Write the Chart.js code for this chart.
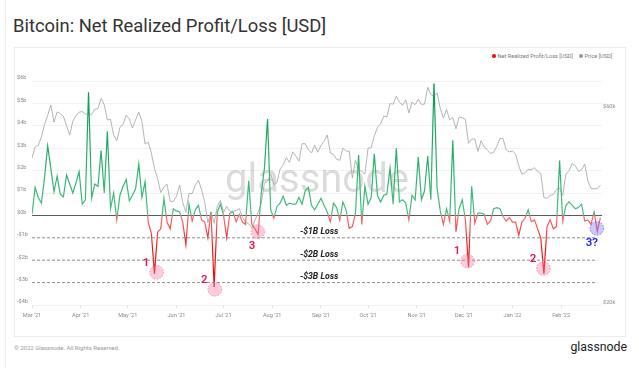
<!DOCTYPE html>
<html>
<head>
<meta charset="utf-8">
<script src="https://cdn.jsdelivr.net/npm/chart.js@4.4.0/dist/chart.umd.min.js"></script>
<style>
  html, body { margin: 0; padding: 0; background: #fff; }
  body { width: 639px; height: 368px; position: relative; overflow: hidden; font-family: Roboto, "Noto Sans", sans-serif; }
  #card { position: absolute; left: 5px; top: 0; width: 1px; height: 368px; background: #ededed; }
  #panel { position: absolute; left: 14px; top: 47px; width: 612px; height: 290px; border: 1px solid #ececec; box-sizing: border-box; }
  #title { position: absolute; left: 13px; top: 17px; font-size: 18.4px; line-height: 18px; color: #333; white-space: nowrap; }
  .legend { position: absolute; top: 52.5px; font-size: 5.6px; line-height: 6px; color: #777; white-space: nowrap; }
  .dot { display: inline-block; width: 3.6px; height: 3.6px; border-radius: 50%; margin-right: 2px; vertical-align: -0.3px; }
  #footer { position: absolute; left: 14px; top: 345px; font-size: 6px; line-height: 6px; color: #999; white-space: nowrap; }
  #logo { position: absolute; right: 12px; top: 341px; font-size: 12.3px; line-height: 13px; color: #222; }
  #wrap { position: absolute; left: 0; top: 0; width: 639px; height: 368px; }
</style>
</head>
<body>
<div id="card"></div>
<div id="panel"></div>
<div id="title">Bitcoin: Net Realized Profit/Loss [USD]</div>
<div class="legend" style="left:492px"><span class="dot" style="background:#f01414"></span>Net Realized Profit/Loss [USD]</div>
<div class="legend" style="left:579px"><span class="dot" style="background:#9a9a9a"></span>Price [USD]</div>
<div id="footer">© 2022 Glassnode. All Rights Reserved.</div>
<div id="logo">glassnode</div>
<div id="wrap"><canvas id="chart" width="639" height="368"></canvas></div>

<script>
// one sample every 2 days starting 1 Mar 2021
const dayStep = 2;

// net realized profit/loss, billions USD
const netPL = [
  0.05, 1.25, 0.8, 0.55, 1.7, 3.1, 2.1, 1.05, 1.75, 0.95,
  0.83, 1.8, 1.4, 1.0, 1.45, 1.95, 0.5, 0.7, 5.5, 0.78,
  1.4, 1.3, 2.9, 1.0, 3.75, 0.3, 1.0, -0.2, 0.9, 1.3,
  1.6, 0.65, 0.9, 1.2, 2.3, 0.8, 1.5, -0.3, -0.8, -2.6,
  -0.75, -0.6, 0.76, -0.3, -0.6, 0.3, 0.2, 0.15, -0.3, -1.3,
  0.5, -0.25, 0.25, 0.45, -0.2, -0.3, -1.0, 0.15, -3.2, 0.15,
  0.5, 0.0, -1.0, 0.1, 0.15, -0.28, 0.05, -0.3, -0.4, 1.55,
  -0.4, -0.6, -0.85, 1.0, 2.1, 4.3, 0.25, -0.13, 0.4, 0.55,
  0.85, 0.45, 0.55, 0.5, 0.5, 0.8, 0.5, 1.1, 1.25, 0.45,
  0.25, 0.5, 0.76, 0.45, 0.15, -0.28, 0.55, 0.35, -0.21, 0.6,
  0.25, -0.58, -0.5, 0.1, 2.7, -0.4, 1.3, 0.5, 0.8, 2.75,
  0.9, 0.6, 0.9, 0.95, 2.1, 0.5, 3.0, 0.6, 0.7, 0.55,
  -0.2, 0.9, 0.7, 2.6, 0.7, 1.1, 2.65, 0.7, 5.9, 1.2,
  0.2, -0.4, 0.3, -0.25, 3.35, -0.73, 0.3, 0.7, -0.2, -2.3,
  1.3, -0.35, 0.1, 0.1, 0.05, -0.4, -0.25, 0.3, 0.35, 0.3,
  -0.05, -0.25, -0.1, -0.3, -0.3, -0.88, -0.3, -0.13, 0.25, -0.28,
  -0.2, -0.6, -1.0, -2.6, -0.5, -0.2, -0.6, -0.5, 2.45, -0.25,
  0.45, 0.6, 0.45, 0.3, 0.35, 0.5, -0.25, -0.2, -0.4, 0.15,
  -0.7, -0.1
];

// BTC price, thousands USD
const price = [
  45.5, 48.4, 48.9, 51.2, 54.9, 57.8, 61.2, 55.6, 58.9, 58.3,
  57.5, 54.5, 51.7, 55.9, 57.7, 58.8, 59.0, 58.2, 58.1, 58.1,
  59.8, 60.0, 63.5, 61.3, 56.3, 56.5, 51.7, 50.1, 54.0, 54.9,
  57.8, 56.6, 53.8, 56.4, 58.8, 55.9, 49.2, 49.7, 46.8, 42.9,
  40.6, 37.5, 38.7, 39.3, 35.7, 35.7, 36.7, 39.1, 35.5, 33.6,
  37.3, 37.3, 39.1, 40.2, 38.1, 35.5, 31.7, 33.7, 31.6, 34.7,
  35.9, 33.6, 34.7, 33.8, 33.8, 33.9, 34.3, 32.7, 31.8, 31.5,
  30.8, 32.1, 33.6, 35.3, 39.5, 40.0, 41.6, 39.2, 39.7, 42.8,
  43.8, 45.6, 44.4, 47.1, 46.0, 44.7, 49.3, 49.3, 47.7, 46.8,
  48.9, 47.0, 48.8, 50.0, 51.8, 46.8, 46.4, 45.2, 44.9, 48.1,
  47.3, 47.3, 40.7, 44.9, 42.7, 42.2, 41.6, 48.1, 48.2, 51.5,
  54.0, 55.0, 57.5, 57.3, 61.7, 61.5, 64.3, 62.2, 61.1, 63.0,
  58.5, 62.2, 61.3, 63.2, 61.4, 61.5, 67.6, 65.0, 64.2, 65.5,
  60.1, 56.9, 59.7, 56.3, 57.1, 53.6, 57.2, 57.0, 56.5, 49.4,
  50.6, 50.6, 47.2, 50.1, 48.4, 47.6, 46.7, 46.9, 48.6, 50.8,
  50.7, 47.6, 47.1, 47.3, 46.5, 43.5, 41.6, 41.9, 42.7, 42.6,
  43.1, 42.2, 41.7, 36.5, 36.3, 36.9, 37.1, 38.2, 38.5, 36.9,
  41.6, 42.4, 44.1, 43.6, 42.2, 42.6, 44.0, 40.0, 38.4, 38.3,
  38.3, 39.1
];

const monthStarts = [0, 31, 61, 92, 122, 153, 184, 214, 245, 275, 306, 337];
const monthLabels = ["Mar '21", "Apr '21", "May '21", "Jun '21", "Jul '21", "Aug '21",
                     "Sep '21", "Oct '21", "Nov '21", "Dec '21", "Jan '22", "Feb '22"];
const priceTicks = [20000, 60000];

const lossLevels = [-1, -2, -3];
const lossLabels = ["-$1B Loss", "-$2B Loss", "-$3B Loss"];

// circled capitulation events (day, value in billions)
const markerDays   = [79.3, 116.4, 143.8, 277.4, 325.7, 359.7];
const markerValues = [-2.54, -3.3, -0.73, -2.04, -2.37, -0.58];
const markerLabels = ["1", "2", "3", "1", "2", "3?"];

const days = netPL.map((_, i) => i * dayStep);

function plColor(context) {
  const chart = context.chart;
  const { ctx, chartArea, scales } = chart;
  if (!chartArea) return "#10a85a";
  const zero = scales.y.getPixelForValue(0);
  const z = (zero - chartArea.top) / (chartArea.bottom - chartArea.top);
  const g = ctx.createLinearGradient(0, chartArea.top, 0, chartArea.bottom);
  g.addColorStop(0, "#009a4c");
  g.addColorStop(z - 0.002, "#47bd80");
  g.addColorStop(z, "#f77070");
  g.addColorStop(Math.min(1, z + 0.15), "#f01818");
  g.addColorStop(1, "#e80000");
  return g;
}

const annotate = {
  id: "annotate",
  beforeDatasetsDraw(chart) {
    const { ctx, chartArea } = chart;
    ctx.save();
    ctx.font = "40px Roboto";
    ctx.fillStyle = "rgba(0,0,0,0.14)";
    ctx.textAlign = "center";
    ctx.textBaseline = "alphabetic";
    ctx.fillText("glassnode", (chartArea.left + chartArea.right) / 2, (chartArea.top + chartArea.bottom) / 2 - 1);
    ctx.restore();
  },
  afterDatasetsDraw(chart) {
    const { ctx, scales } = chart;
    const x = scales.x, y = scales.y;
    ctx.save();

    // loss level captions
    ctx.font = "italic bold 8.7px Roboto";
    ctx.fillStyle = "#222";
    ctx.textAlign = "left";
    ctx.textBaseline = "middle";
    lossLevels.forEach((lv, i) => {
      ctx.fillText(lossLabels[i], x.getPixelForValue(170.6), y.getPixelForValue(lv) - 5.6);
    });

    // circles and their numbers
    markerDays.forEach((d, i) => {
      const cx = x.getPixelForValue(d);
      const cy = y.getPixelForValue(markerValues[i]);
      const blue = markerLabels[i] === "3?";
      ctx.beginPath();
      ctx.arc(cx, cy, 6.8, 0, Math.PI * 2);
      ctx.fillStyle = blue ? "rgba(120,120,245,0.4)" : "rgba(250,120,160,0.38)";
      ctx.fill();
      ctx.setLineDash([1.5, 1.5]);
      ctx.lineWidth = 0.8;
      ctx.strokeStyle = blue ? "rgba(70,70,230,0.8)" : "rgba(240,80,130,0.75)";
      ctx.stroke();
      ctx.setLineDash([]);

      const below = markerLabels[i].startsWith("3");
      ctx.font = "600 11.5px Roboto";
      ctx.fillStyle = blue ? "#1f1fe0" : "#e8174f";
      ctx.textAlign = "center";
      ctx.textBaseline = "middle";
      const lx = below ? cx - (blue ? 5 : 5.7) : cx - 10.5;
      const ly = below ? cy + 14.4 : cy - 9.6;
      ctx.fillText(markerLabels[i], lx, ly);
    });
    ctx.restore();
  }
};

Chart.defaults.font.family = "Roboto";

const lossSets = lossLevels.map((lv) => ({
  data: [{ x: 0, y: lv }, { x: 360, y: lv }],
  yAxisID: "y",
  borderColor: "#8c8c8c",
  borderWidth: 1,
  borderDash: [3, 2],
  pointRadius: 0,
  order: 0,
}));

new Chart(document.getElementById("chart"), {
  type: "line",
  data: {
    datasets: [
      {
        label: "Net Realized Profit/Loss [USD]",
        data: days.map((d, i) => ({ x: d, y: netPL[i] })),
        yAxisID: "y",
        borderColor: plColor,
        borderWidth: 1.2,
        pointRadius: 0,
        tension: 0,
        order: 1,
      },
      {
        label: "Price [USD]",
        data: days.map((d, i) => ({ x: d, y: price[i] * 1000 })),
        yAxisID: "yPrice",
        borderColor: "#ababab",
        borderWidth: 0.9,
        pointRadius: 0,
        tension: 0,
        order: 2,
      },
      ...lossSets,
    ],
  },
  options: {
    responsive: false,
    animation: false,
    devicePixelRatio: 1,
    layout: { padding: { left: 17, right: 15, top: 81, bottom: 47 } },
    plugins: { legend: { display: false }, tooltip: { enabled: false } },
    scales: {
      x: {
        type: "linear",
        min: 0,
        max: 363,
        afterBuildTicks: (s) => { s.ticks = monthStarts.map((v) => ({ value: v })); },
        afterFit: (s) => { s.height = 16; },
        ticks: {
          callback: (v, i) => monthLabels[i],
          autoSkip: false,
          maxRotation: 0,
          padding: 4,
          color: "#8a8a8a",
          font: { size: 5.6 },
        },
        grid: { drawOnChartArea: false, tickLength: 3, color: "#dcdcdc" },
        border: { display: false },
      },
      y: {
        position: "left",
        min: -4,
        max: 6,
        afterFit: (s) => { s.width = 15; },
        ticks: {
          stepSize: 1,
          callback: (v) => (v < 0 ? "-$" + -v : "$" + v) + "b",
          crossAlign: "far",
          labelOffset: -3,
          padding: 0,
          color: "#8a8a8a",
          font: { size: 5.6 },
        },
        grid: {
          drawTicks: false,
          color: (c) => c.tick.value === 0 ? "#5a5a5a"
            : lossLevels.includes(c.tick.value) ? "rgba(0,0,0,0)" : "#f1f1f1",
        },
        border: { display: false },
      },
      yPrice: {
        type: "logarithmic",
        position: "right",
        min: 20000,
        max: 70000,
        afterBuildTicks: (s) => { s.ticks = priceTicks.map((v) => ({ value: v })); },
        afterFit: (s) => { s.width = 22; },
        ticks: {
          callback: (v) => "$" + v / 1000 + "k",
          crossAlign: "near",
          labelOffset: -2,
          padding: 1,
          color: "#8a8a8a",
          font: { size: 5.6 },
        },
        grid: { display: false, drawTicks: false },
        border: { display: false },
      },
    },
  },
  plugins: [annotate],
});
</script>
</body>
</html>
